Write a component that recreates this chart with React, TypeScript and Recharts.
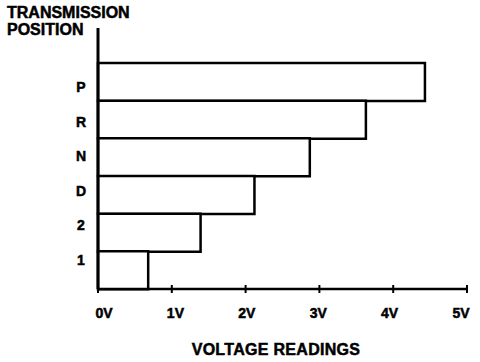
import { BarChart, Bar, XAxis, YAxis } from "recharts";

const positions = ["P", "R", "N", "D", "2", "1"];
const voltages = [4.43, 3.63, 2.87, 2.12, 1.39, 0.68];
const voltTicks = [0, 1, 2, 3, 4, 5];

const data = positions.map((pos, i) => ({ pos, volts: voltages[i] }));

const FONT = "'Liberation Sans', Arial, sans-serif";
const heavy = { fontFamily: FONT, fontWeight: "bold", fill: "#000", stroke: "#000", strokeWidth: 0.5 } as const;

function VoltTick(props: any) {
  const { x, y, payload } = props;
  // hand-lettered labels drift a little left of their ticks toward the right end
  const dx = 6 - 2.4 * payload.value;
  return (
    <g>
      <line x1={x} y1={y - 4} x2={x} y2={y + 4} stroke="#000" strokeWidth={2} />
      <text x={x + dx} y={y + 29} textAnchor="middle" fontSize={14} {...heavy}>
        {payload.value}V
      </text>
    </g>
  );
}

function PosTick(props: any) {
  const { x, y, payload } = props;
  return (
    <text x={x - 17} y={y + 5} textAnchor="middle" fontSize={14} {...heavy}>
      {payload.value}
    </text>
  );
}

export default function App() {
  return (
    <div style={{ position: "absolute", left: 0, top: 0, background: "#fff" }}>
      <BarChart
        width={480}
        height={362}
        data={data}
        layout="vertical"
        barCategoryGap={0}
        margin={{ top: 28, right: 13, bottom: 0, left: 0 }}
      >
        <XAxis
          type="number"
          dataKey="volts"
          domain={[0, 5]}
          ticks={voltTicks}
          interval={0}
          height={73}
          tickSize={0}
          tickMargin={0}
          tickLine={false}
          axisLine={{ stroke: "#000", strokeWidth: 2.5 }}
          tick={<VoltTick />}
        />
        <YAxis
          yAxisId="bars"
          type="category"
          dataKey="pos"
          width={0}
          padding={{ top: 35, bottom: 0 }}
          tick={false}
          tickLine={false}
          axisLine={false}
        />
        <YAxis
          yAxisId="labels"
          type="category"
          dataKey="pos"
          width={98}
          padding={{ top: 42, bottom: 12 }}
          tickSize={0}
          tickMargin={0}
          tickLine={false}
          axisLine={{ stroke: "#000", strokeWidth: 3 }}
          interval={0}
          tick={<PosTick />}
        />
        <Bar
          yAxisId="bars"
          dataKey="volts"
          fill="#fff"
          stroke="#000"
          strokeWidth={2.5}
          isAnimationActive={false}
        />
        <text x={7} y={18} fontSize={16} {...heavy}>
          TRANSMISSION
        </text>
        <text x={7} y={35} fontSize={16} {...heavy}>
          POSITION
        </text>
        <text x={276} y={355} textAnchor="middle" fontSize={16} letterSpacing={0.3} {...heavy}>
          VOLTAGE READINGS
        </text>
      </BarChart>
    </div>
  );
}
